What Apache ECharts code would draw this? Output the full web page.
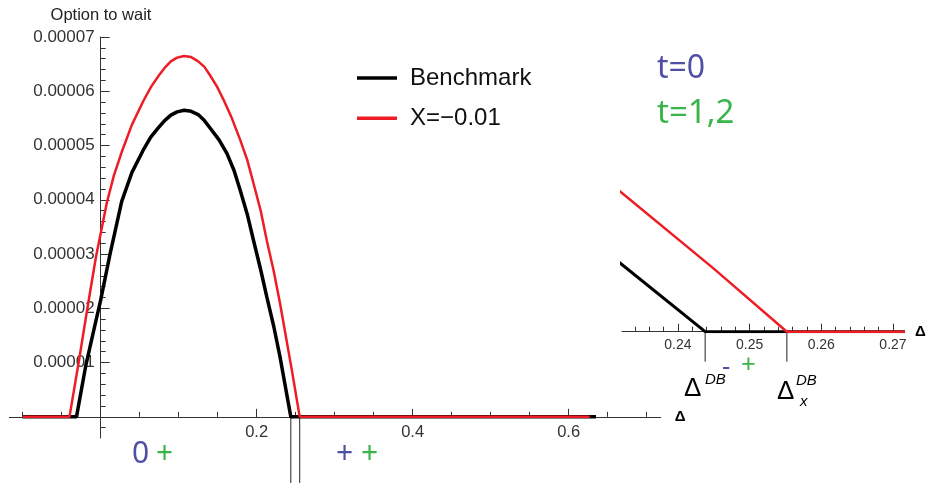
<!DOCTYPE html>
<html>
<head>
<meta charset="utf-8">
<script src="https://cdn.jsdelivr.net/npm/echarts@6/dist/echarts.min.js"></script>
<style>
  html, body { margin: 0; padding: 0; background: #fff; }
  #chart { width: 928px; height: 483px; }
</style>
</head>
<body>
<div id="chart"></div>
<script>
// option to wait vs Delta
const benchmark = [
  [-0.1, 0], [-0.031, 0], [-0.019, 0.0000095], [-0.008, 0.0000165], [0, 0.0000215],
  [0.012, 0.00003], [0.027, 0.0000397], [0.04, 0.000045], [0.054, 0.000049], [0.064, 0.0000515],
  [0.073, 0.0000531], [0.082, 0.0000546], [0.09, 0.0000556], [0.098, 0.0000562], [0.107, 0.0000565],
  [0.116, 0.0000563], [0.125, 0.0000557], [0.133, 0.0000546], [0.141, 0.0000531], [0.152, 0.000051],
  [0.162, 0.0000485], [0.171, 0.0000454], [0.179, 0.0000417], [0.188, 0.0000373], [0.196, 0.0000325],
  [0.205, 0.0000272], [0.213, 0.0000221], [0.222, 0.0000166], [0.23, 0.000011], [0.2438, 0], [0.635, 0]
];
const shock = [
  [-0.1, 0], [-0.04, 0], [-0.028, 0.0000102], [-0.017, 0.00002], [-0.006, 0.0000295],
  [0.008, 0.0000395], [0.017, 0.0000445], [0.027, 0.0000488], [0.04, 0.0000538], [0.055, 0.0000583],
  [0.065, 0.0000609], [0.075, 0.000063], [0.082, 0.0000643], [0.09, 0.0000655], [0.098, 0.0000662],
  [0.107, 0.0000665], [0.116, 0.0000663], [0.125, 0.0000655], [0.133, 0.0000645], [0.14, 0.000063],
  [0.149, 0.0000609], [0.158, 0.0000583], [0.168, 0.0000551], [0.179, 0.000051], [0.188, 0.0000473],
  [0.196, 0.000043], [0.205, 0.0000381], [0.213, 0.0000325], [0.222, 0.0000268], [0.23, 0.0000209],
  [0.245, 0.0000087], [0.2552, 0], [0.627, 0]
];
// thresholds Delta^DB and Delta_x^DB
const dbThresholds = [0.2438, 0.2552];

const seriesNames = ['Benchmark', 'X=\u22120.01'];

// main axes ticks
const mainXNegTicks = [-0.1, -0.05];
const mainXTicks = [0.05, 0.1, 0.15, 0.2, 0.25, 0.3, 0.35, 0.4, 0.45, 0.5, 0.55, 0.6, 0.65, 0.7];
const mainXMajor = [0.2, 0.4, 0.6];
const mainXLabels = [0.2, 0.4, 0.6];
const mainYNegTicks = [-0.000002];
const mainYTicks = [0.000002, 0.000004, 0.000006, 0.000008, 0.00001, 0.000012, 0.000014,
  0.000016, 0.000018, 0.00002, 0.000022, 0.000024, 0.000026, 0.000028, 0.00003, 0.000032, 0.000034,
  0.000036, 0.000038, 0.00004, 0.000042, 0.000044, 0.000046, 0.000048, 0.00005, 0.000052, 0.000054,
  0.000056, 0.000058, 0.00006, 0.000062, 0.000064, 0.000066, 0.000068, 0.00007];
const mainYMajor = [0.00001, 0.00002, 0.00003, 0.00004, 0.00005, 0.00006, 0.00007];
const mainYLabels = [0.00001, 0.00002, 0.00003, 0.00004, 0.00005, 0.00006, 0.00007];

// inset (zoom near the thresholds)
const insetXTicks = [0.234, 0.236, 0.238, 0.24, 0.242, 0.244, 0.246, 0.248, 0.25, 0.252, 0.254,
  0.256, 0.258, 0.26, 0.262, 0.264, 0.266, 0.268, 0.27];
const insetXMajor = [0.24, 0.25, 0.26, 0.27];
const insetXLabels = [0.24, 0.25, 0.26, 0.27];

const FONT = 'Liberation Sans';
const AX = '#333';
const RED = '#ee1c25';
const BLUE = '#4f4fa3';
const GREEN = '#3ab54a';

// main plot box: x from -0.117 to 0.718, y from -0.0000039 to 0.00007
const MAIN = { left: 9.4, right: 267.3, top: 37, bottom: 45 };
// same box cut at the origin, so labels sit next to the zero lines
const ORIGIN = { left: 100.66, right: 267.3, top: 37, bottom: 66.16 };
const INSET = { left: 622, right: 25, top: 170, bottom: 151.3 };

const chart = echarts.init(document.getElementById('chart'));

function dropLines(xIdx, yIdx, len) {
  return {
    type: 'custom',
    xAxisIndex: xIdx,
    yAxisIndex: yIdx,
    clip: false,
    silent: true,
    data: dbThresholds.map(v => [v, 0]),
    renderItem: (params, api) => {
      const p = api.coord([api.value(0), 0]);
      return {
        type: 'line',
        shape: { x1: p[0], y1: p[1], x2: p[0], y2: p[1] + len },
        style: { stroke: '#222', lineWidth: 1 }
      };
    }
  };
}

function txt(x, y, text, size, color, family, italic, align) {
  return {
    type: 'text', x: x, y: y, z: 100,
    style: {
      text: text, fontSize: size, fontFamily: family || FONT, fill: color,
      fontStyle: italic ? 'italic' : 'normal',
      textAlign: align || 'left', textVerticalAlign: 'middle'
    }
  };
}

const noLine = { show: false };
const noLabel = { show: false };
const noSplit = { show: false };

const option = {
  animation: false,
  grid: [
    Object.assign({ outerBoundsMode: 'none' }, MAIN),
    Object.assign({ outerBoundsMode: 'none' }, ORIGIN),
    Object.assign({ outerBoundsMode: 'none' }, ORIGIN),
    Object.assign({ outerBoundsMode: 'none' }, INSET),
    Object.assign({ outerBoundsMode: 'none' }, INSET)
  ],
  legend: {
    data: seriesNames,
    orient: 'vertical',
    left: 352,
    top: 60,
    icon: 'rect',
    itemWidth: 40,
    itemHeight: 3.5,
    itemGap: 14.3,
    textStyle: { fontSize: 24, fontFamily: FONT, color: '#111', lineHeight: 26, padding: [0, 0, 0, 8] }
  },
  xAxis: [
    {
      gridIndex: 0, type: 'value', min: -0.117, max: 0.718,
      axisLine: { onZero: true, onZeroAxisIndex: 0, lineStyle: { color: AX, width: 1 } },
      axisTick: { inside: true, length: 5, customValues: mainXNegTicks, lineStyle: { color: AX } },
      axisLabel: noLabel,
      splitLine: noSplit,
      name: '\u0394', nameLocation: 'end', nameGap: 14,
      nameTextStyle: { fontSize: 15, fontFamily: FONT, color: '#000', fontWeight: 'bold' }
    },
    {
      gridIndex: 1, type: 'value', min: 0, max: 0.718,
      axisLine: noLine,
      axisTick: { inside: true, length: 5, customValues: mainXTicks, lineStyle: { color: AX } },
      axisLabel: { customValues: mainXLabels, margin: 7, fontSize: 16.5, fontFamily: FONT, color: AX },
      splitLine: noSplit
    },
    {
      gridIndex: 2, type: 'value', min: 0, max: 0.718,
      axisLine: noLine,
      axisTick: { inside: true, length: 8, customValues: mainXMajor, lineStyle: { color: AX } },
      axisLabel: noLabel,
      splitLine: noSplit
    },
    {
      gridIndex: 3, type: 'value', min: 0.2322, max: 0.2714,
      axisLine: { onZero: false, lineStyle: { color: AX, width: 1 } },
      axisTick: { inside: true, length: 5, customValues: insetXTicks, lineStyle: { color: AX } },
      axisLabel: {
        customValues: insetXLabels, margin: 6, fontSize: 14, fontFamily: FONT, color: AX,
        formatter: v => v.toFixed(2)
      },
      splitLine: noSplit,
      name: '\u0394', nameLocation: 'end', nameGap: 12,
      nameTextStyle: { fontSize: 15, fontFamily: FONT, color: '#000', fontWeight: 'bold' }
    },
    {
      gridIndex: 4, type: 'value', min: 0.2322, max: 0.2714,
      axisLine: noLine,
      axisTick: { inside: true, length: 8, customValues: insetXMajor, lineStyle: { color: AX } },
      axisLabel: noLabel,
      splitLine: noSplit
    }
  ],
  yAxis: [
    {
      gridIndex: 0, type: 'value', min: -0.0000039, max: 0.00007,
      axisLine: { onZero: true, onZeroAxisIndex: 0, lineStyle: { color: AX, width: 1 } },
      axisTick: { inside: true, length: 5, customValues: mainYNegTicks, lineStyle: { color: AX } },
      axisLabel: noLabel,
      splitLine: noSplit
    },
    {
      gridIndex: 1, type: 'value', min: 0, max: 0.00007,
      axisLine: noLine,
      axisTick: { inside: true, length: 5, customValues: mainYTicks, lineStyle: { color: AX } },
      axisLabel: {
        customValues: mainYLabels, margin: 6, fontSize: 17, fontFamily: FONT, color: AX,
        formatter: v => v.toFixed(5)
      },
      splitLine: noSplit
    },
    {
      gridIndex: 2, type: 'value', min: 0, max: 0.00007,
      axisLine: noLine,
      axisTick: { inside: true, length: 9, customValues: mainYMajor, lineStyle: { color: AX } },
      axisLabel: noLabel,
      splitLine: noSplit
    },
    { gridIndex: 3, type: 'value', min: 0, max: 0.0000223, show: false },
    { gridIndex: 4, type: 'value', min: 0, max: 0.0000223, show: false }
  ],
  series: [
    {
      name: seriesNames[0], type: 'line', xAxisIndex: 0, yAxisIndex: 0,
      data: benchmark, symbol: 'none', z: 3,
      lineStyle: { color: '#000', width: 3.5 }, itemStyle: { color: '#000' }
    },
    {
      name: seriesNames[1], type: 'line', xAxisIndex: 0, yAxisIndex: 0,
      data: shock, symbol: 'none', z: 4,
      lineStyle: { color: RED, width: 2.5 }, itemStyle: { color: RED }
    },
    {
      name: seriesNames[0], type: 'line', xAxisIndex: 3, yAxisIndex: 3,
      data: benchmark, symbol: 'none', z: 3,
      lineStyle: { color: '#000', width: 3 }, itemStyle: { color: '#000' }
    },
    {
      name: seriesNames[1], type: 'line', xAxisIndex: 3, yAxisIndex: 3,
      data: shock, symbol: 'none', z: 4,
      lineStyle: { color: RED, width: 2.5 }, itemStyle: { color: RED }
    },
    dropLines(0, 0, 70),
    dropLines(3, 3, 30)
  ],
  graphic: [
    txt(101, 15, 'Option to wait', 16.5, '#222', FONT, false, 'center'),
    txt(657, 69, 't=0', 32, BLUE, 'Noto Sans'),
    txt(657, 114, 't=1,2', 33, GREEN, 'Noto Sans'),
    txt(132, 454, '0', 30, BLUE, 'Noto Sans'),
    txt(156, 454, '+', 30, GREEN, 'Noto Sans'),
    txt(336, 454, '+', 30, BLUE, 'Noto Sans'),
    txt(361, 454, '+', 30, GREEN, 'Noto Sans'),
    txt(722, 368, '-', 26, BLUE, 'Noto Sans'),
    txt(741, 366, '+', 26, GREEN, 'Noto Sans'),
    txt(684, 389, '\u0394', 26, '#000'),
    txt(705, 380, 'DB', 15, '#000', FONT, true),
    txt(777, 392, '\u0394', 26, '#000'),
    txt(796, 381, 'DB', 15, '#000', FONT, true),
    txt(800, 402, 'x', 15, '#000', FONT, true)
  ]
};

chart.setOption(option);
</script>
</body>
</html>
